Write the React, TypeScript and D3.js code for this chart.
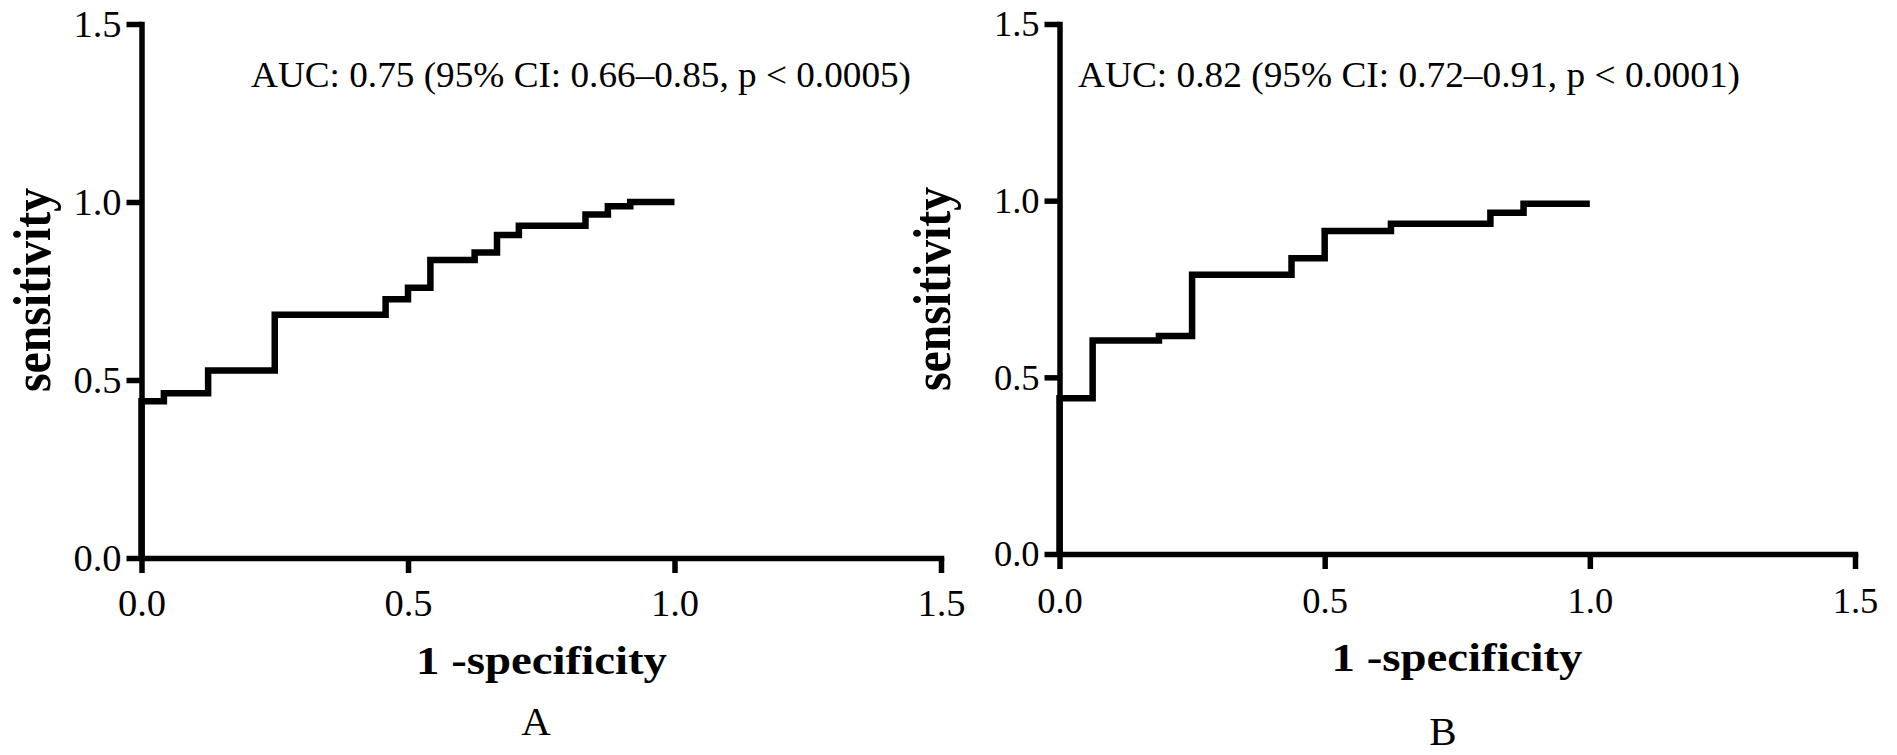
import * as d3 from "d3";
import { useEffect, useRef } from "react";

const W = 1897;
const H = 755;

const tickValues = [0, 0.5, 1.0, 1.5];
const xTitle = "1 -specificity";
const yTitle = "sensitivity";

// ROC A: false positive rate / true positive rate at each step
const fprA = [0, 0, 0.042, 0.125, 0.25, 0.458, 0.5, 0.542, 0.625, 0.667, 0.708, 0.833, 0.875, 0.917, 1.0];
const tprA = [0, 0.44, 0.463, 0.527, 0.683, 0.727, 0.759, 0.837, 0.858, 0.907, 0.933, 0.965, 0.988, 1.0, 1.0];
const aucA = "AUC: 0.75 (95% CI: 0.66–0.85, p < 0.0005)";

// ROC B
const fprB = [0, 0, 0.0625, 0.1875, 0.25, 0.4375, 0.5, 0.625, 0.8125, 0.875, 1.0];
const tprB = [0, 0.441, 0.604, 0.617, 0.79, 0.837, 0.914, 0.935, 0.966, 0.991, 0.991];
const aucB = "AUC: 0.82 (95% CI: 0.72–0.91, p < 0.0001)";

const FONT = "'Liberation Serif', 'Times New Roman', serif";

const panels = [
  {
    fpr: fprA, tpr: tprA, auc: aucA, label: "A",
    x0: 141.5, x1: 941, y0: 558, y1: 24, tickFont: 38.5,
    xTickBase: 616, aucX: 251, aucLen: 660,
    yTitleX: 50, yTitleY: 290, xTitleX: 541.5, xTitleY: 674,
    labelX: 536, labelY: 735,
  },
  {
    fpr: fprB, tpr: tprB, auc: aucB, label: "B",
    x0: 1059.5, x1: 1855, y0: 554, y1: 24, tickFont: 36.5,
    xTickBase: 613, aucX: 1078, aucLen: 662,
    yTitleX: 950, yTitleY: 289, xTitleX: 1457, xTitleY: 671,
    labelX: 1443, labelY: 745,
  },
];

function RocPanel({ p }) {
  const ref = useRef(null);

  useEffect(() => {
    const g = d3.select(ref.current);
    g.selectAll("*").remove();

    const x = d3.scaleLinear().domain([0, 1.5]).range([p.x0, p.x1]);
    const y = d3.scaleLinear().domain([0, 1.5]).range([p.y0, p.y1]);
    const fmt = d3.format(".1f");

    const yAxis = g
      .append("g")
      .attr("transform", `translate(${p.x0},0)`)
      .call(d3.axisLeft(y).tickValues(tickValues).tickSize(15).tickSizeOuter(0).tickPadding(5).tickFormat(fmt));

    const xAxis = g
      .append("g")
      .attr("transform", `translate(0,${p.y0})`)
      .call(d3.axisBottom(x).tickValues(tickValues).tickSize(15).tickSizeOuter(0).tickFormat(fmt));

    [yAxis, xAxis].forEach((a) => {
      a.attr("font-family", FONT).attr("font-size", p.tickFont);
      a.select(".domain").attr("stroke", "#000").attr("stroke-width", 5.5).attr("stroke-linecap", "square");
      a.selectAll(".tick line").attr("stroke", "#000").attr("stroke-width", 5.5);
      a.selectAll(".tick text").attr("fill", "#000");
    });
    xAxis.selectAll(".tick text").attr("y", p.xTickBase - p.y0).attr("dy", null);

    const pts = p.fpr.map((f, i) => [f, p.tpr[i]]);
    const line = d3
      .line()
      .x((d) => x(d[0]))
      .y((d) => y(d[1]))
      .curve(d3.curveStepAfter);

    g.append("path")
      .attr("d", line(pts))
      .attr("fill", "none")
      .attr("stroke", "#000")
      .attr("stroke-width", 6.5)
      .attr("stroke-linejoin", "miter");
  }, [p]);

  return (
    <g fontFamily={FONT} fill="#000">
      <g ref={ref} />
      <text x={p.aucX} y={87} fontSize={36} textLength={p.aucLen} lengthAdjust="spacingAndGlyphs">
        {p.auc}
      </text>
      <text
        transform={`translate(${p.yTitleX},${p.yTitleY}) rotate(-90)`}
        textAnchor="middle"
        fontWeight="bold"
        fontSize={52}
        textLength={204}
        lengthAdjust="spacingAndGlyphs"
      >
        {yTitle}
      </text>
      <text
        x={p.xTitleX}
        y={p.xTitleY}
        textAnchor="middle"
        fontWeight="bold"
        fontSize={40}
        textLength={251}
        lengthAdjust="spacingAndGlyphs"
      >
        {xTitle}
      </text>
      <text x={p.labelX} y={p.labelY} textAnchor="middle" fontSize={41}>
        {p.label}
      </text>
    </g>
  );
}

export default function App() {
  return (
    <div style={{ position: "absolute", left: 0, top: 0 }}>
      <svg width={W} height={H} style={{ display: "block", background: "#fff" }}>
        {panels.map((p) => (
          <RocPanel key={p.label} p={p} />
        ))}
      </svg>
    </div>
  );
}
